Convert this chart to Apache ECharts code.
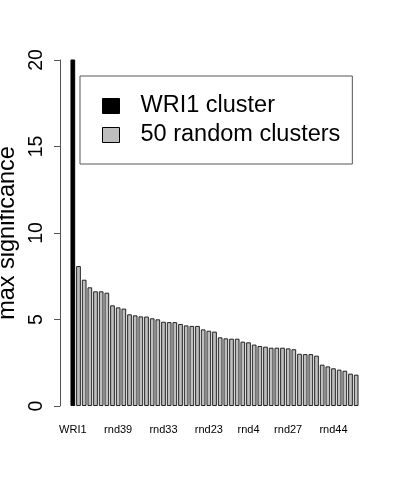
<!DOCTYPE html>
<html>
<head>
<meta charset="utf-8">
<script src="https://cdn.jsdelivr.net/npm/echarts@6/dist/echarts.min.js"></script>
<style>html,body{margin:0;padding:0;background:#fff}#c{width:400px;height:480px}</style>
</head>
<body>
<div id="c"></div>
<script>
// Category labels (only those R printed are known; others left blank)
var categories = ['WRI1','','','','','','','','rnd39','','','','','','','','rnd33','','','','','','','','rnd23','','','','','','','rnd4','','','','','','','rnd27','','','','','','','','rnd44','','','',''];
// WRI1 bar exceeds the axis (clipped at 20)
var wri1Value = 21;
// 50 random clusters, sorted
var randomValues = [8.09, 7.30, 6.86, 6.63, 6.63, 6.55, 5.82, 5.70, 5.63, 5.30, 5.24, 5.18, 5.17, 5.07, 5.01, 4.87, 4.85, 4.85, 4.74, 4.66, 4.63, 4.63, 4.43, 4.35, 4.30, 3.97, 3.91, 3.89, 3.89, 3.72, 3.68, 3.55, 3.47, 3.43, 3.37, 3.37, 3.37, 3.33, 3.28, 3.02, 3.00, 3.00, 2.91, 2.39, 2.29, 2.18, 2.10, 2.04, 1.87, 1.81];
var yTicks = [0, 5, 10, 15, 20];

var wriData = [wri1Value].concat(randomValues.map(function(){return '-';}));
var rndData = ['-'].concat(randomValues);

var FONT = 'Liberation Sans, Arial, Helvetica, sans-serif';
var chart = echarts.init(document.getElementById('c'));
chart.setOption({
  animation: false,
  backgroundColor: '#ffffff',
  grid: {left: 70, right: 41, top: 60, bottom: 74, containLabel: false, outerBoundsMode: 'none'},
  legend: {
    orient: 'vertical',
    left: 80, top: 76,
    padding: [18, 12, 17, 22],
    itemGap: 5,
    itemWidth: 17, itemHeight: 15,
    borderColor: '#555', borderWidth: 1, borderRadius: 0,
    icon: 'rect',
    selectedMode: false,
    textStyle: {fontFamily: FONT, fontSize: 23.5, color: '#000', padding: [0,0,0,16]},
    data: [
      {name: 'WRI1 cluster', itemStyle: {color: '#000', borderColor: '#000', borderWidth: 1}},
      {name: '50 random clusters', itemStyle: {color: '#bebebe', borderColor: '#000', borderWidth: 1}}
    ]
  },
  xAxis: {
    type: 'category',
    data: categories,
    axisLine: {show: false},
    axisTick: {show: false},
    axisLabel: {interval: 0, fontFamily: FONT, fontSize: 11, color: '#000', margin: 18}
  },
  yAxis: {
    type: 'value',
    min: 0, max: 20, interval: 5,
    offset: 10,
    name: 'max significance',
    nameLocation: 'middle',
    nameGap: 39,
    nameRotate: 90,
    nameTextStyle: {fontFamily: FONT, fontSize: 23.5, color: '#000'},
    splitLine: {show: false},
    axisLine: {show: true, lineStyle: {color: '#555', width: 1}},
    axisTick: {show: true, length: 6, lineStyle: {color: '#555', width: 1}},
    axisLabel: {rotate: 90, fontFamily: FONT, fontSize: 19.5, color: '#000', margin: 13,
      formatter: function(v){ return yTicks.indexOf(v) >= 0 ? String(v) : ''; }}
  },
  series: [
    {
      name: 'WRI1 cluster', type: 'bar', data: wriData, clip: true,
      barCategoryGap: '17%', barGap: '-100%',
      itemStyle: {color: '#000', borderColor: '#000', borderWidth: 1}
    },
    {
      name: '50 random clusters', type: 'bar', data: rndData, clip: true,
      barCategoryGap: '17%', barGap: '-100%',
      itemStyle: {color: '#bebebe', borderColor: '#222', borderWidth: 1}
    }
  ]
});
</script>
</body>
</html>
